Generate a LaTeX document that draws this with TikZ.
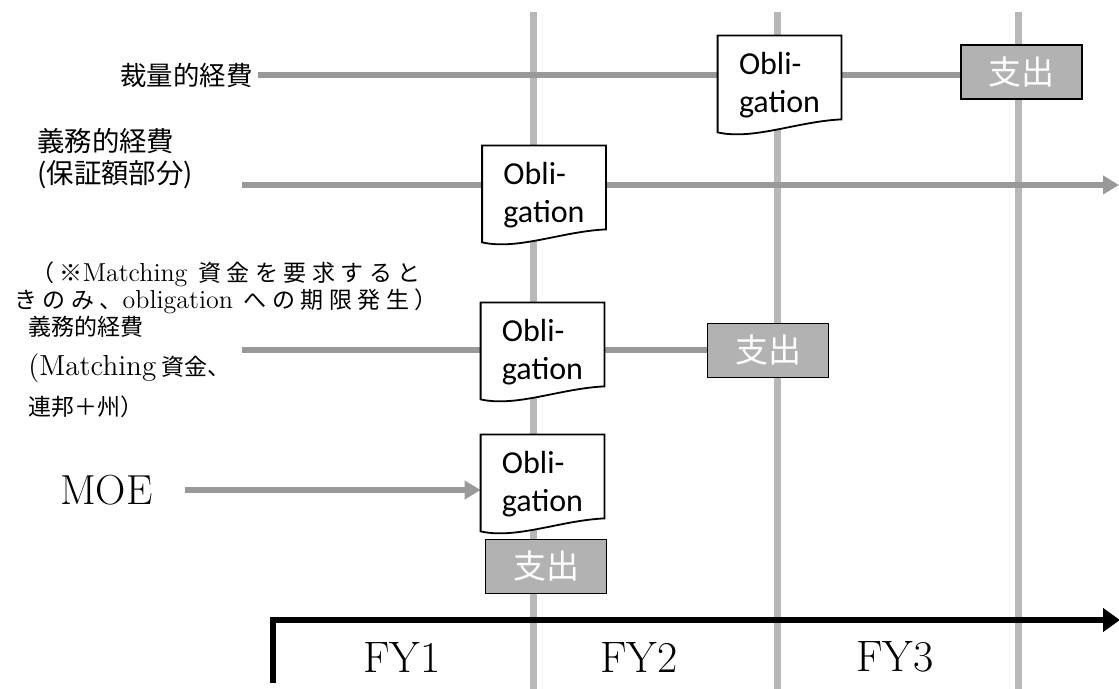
\documentclass[tikz,border=0pt]{standalone}
\usepackage{fontspec}
\newfontfamily\jpfont{Noto Sans CJK JP}
\newfontfamily\jpspaced[LetterSpace=24]{Noto Sans CJK JP}
\newfontfamily\oblfont{Carlito}
\usepackage{tikz}
\usetikzlibrary{positioning,calc,arrows.meta,backgrounds}

\definecolor{linegray}{gray}{0.6}
\definecolor{gridgray}{gray}{0.72}
\definecolor{spendgray}{gray}{0.7}

% document shape around an obligation node
\newcommand{\docoutline}[1]{%
  \path[docline] ([yshift=4pt]#1.north west) -- ([yshift=4pt]#1.north east) -- ([yshift=4pt]#1.south east)
    .. controls +(-22pt,-1pt) and +(18pt,-4pt) .. ([yshift=-2.5pt]#1.south west) -- cycle;}
% larger serif for latin words inside japanese labels
\newcommand{\latin}[1]{{\rmfamily\fontsize{13}{12.5}\selectfont #1}}

\begin{document}
\begin{tikzpicture}[
			x=0.5pt, y=-0.5pt,
			oblig/.style={rectangle, minimum width=61.5pt, minimum height=41.5pt, inner sep=0pt, align=left, font=\oblfont\fontsize{16}{19}\selectfont},
			docline/.style={draw=black, line width=0.9pt, fill=white},
			spend/.style={rectangle, draw=black, line width=0.7pt, fill=spendgray, minimum width=60.5pt, minimum height=27pt, inner sep=0pt, text=white, font=\jpfont\fontsize{16.5}{16.5}\selectfont},
			rowlabel/.style={anchor=west, inner sep=0pt, align=left},
			flow/.style={draw=linegray, line width=3pt},
			flowarrow/.style={flow, -{Triangle[length=8pt,width=9pt]}},
			yearline/.style={draw=gridgray, line width=3.5pt},
			timeaxis/.style={draw=black, line width=3pt, line join=miter, -{Triangle[length=8.5pt,width=11.5pt]}},
			fylabel/.style={inner sep=0pt, font=\fontsize{22}{22}\selectfont}
			]
	\useasboundingbox (0,0) rectangle (1119,689);
	
	%% ROW 1: discretionary
	\node[rowlabel, font=\jpfont\fontsize{13.2}{16}\selectfont] (lblDisc) at (120,75) {裁量的経費};
	\node[oblig] (obl1) at (779.5,85.5) {Obli-\\gation};
	\node[spend] (spd1) at (1021.5,72) {支出};
	\coordinate (start1) at (258,75);
	
	%% ROW 2: mandatory (guaranteed part)
	\node[rowlabel, font=\jpfont\fontsize{13.7}{16}\selectfont] (lblGuar) at (37,159) {義務的経費\\(保証額部分)};
	\node[oblig] (obl2) at (544,195.5) {Obli-\\gation};
	\coordinate (start2) at (242,185);
	\coordinate (end2) at (1119,185);
	\node[inner sep=0pt, align=center, font=\jpspaced\fontsize{11.5}{12.5}\selectfont] (note) at (226,288)
		{（※\latin{Matching} 資金を要求すると\\きのみ、\latin{obligation} への期限発生）};
	
	%% ROW 3: mandatory (matching funds)
	\node[rowlabel, font=\jpfont\fontsize{11.5}{20}\selectfont] (lblMatch) at (28,367)
		{義務的経費\\{\rmfamily\fontsize{14.5}{20}\selectfont (Matching} 資金、\\連邦＋州）};
	\node[oblig] (obl3) at (542.5,352.5) {Obli-\\gation};
	\node[spend] (spd3) at (768,350.5) {支出};
	\coordinate (start3) at (242,350);
	
	%% ROW 4: MOE
	\node[anchor=east, inner sep=0pt, font=\fontsize{21}{21}\selectfont] (lblMoe) at (153,490) {MOE};
	\node[oblig] (obl4) at (542.5,484.5) {Obli-\\gation};
	\node[spend] (spd4) at (546,566.5) {支出};
	\coordinate (start4) at (185,490);
	
	%% Time axis
	\coordinate (axisL) at (273,683);
	\coordinate (axisC) at (273,620);
	\coordinate (axisR) at (1120,620);
	\draw[timeaxis] (axisL) -- (axisC) -- (axisR);
	\node[fylabel] (fy1) at (402,657) {FY1};
	\node[fylabel] (fy2) at (639,657) {FY2};
	\node[fylabel] (fy3) at (895,657) {FY3};
	
	%% Lines behind the boxes
	\begin{scope}[on background layer]
		\foreach \x in {533,777,1018}
			\draw[yearline] (\x,12) -- (\x,689);
		\draw[flow] (start1) -- (start1 -| obl1.west);
		\draw[flow] (start1 -| obl1.east) -- (start1 -| spd1.west);
		\draw[flow] (start2) -- (start2 -| obl2.west);
		\draw[flowarrow] (start2 -| obl2.east) -- (end2);
		\draw[flow] (start3) -- (start3 -| obl3.west);
		\draw[flow] (start3 -| obl3.east) -- (start3 -| spd3.west);
		\draw[flowarrow] (start4) -- (start4 -| obl4.west);
		% document outlines on top of the lines
		\foreach \n in {obl1,obl2,obl3,obl4}
			\docoutline{\n};
	\end{scope}
	
\end{tikzpicture}
\end{document}
